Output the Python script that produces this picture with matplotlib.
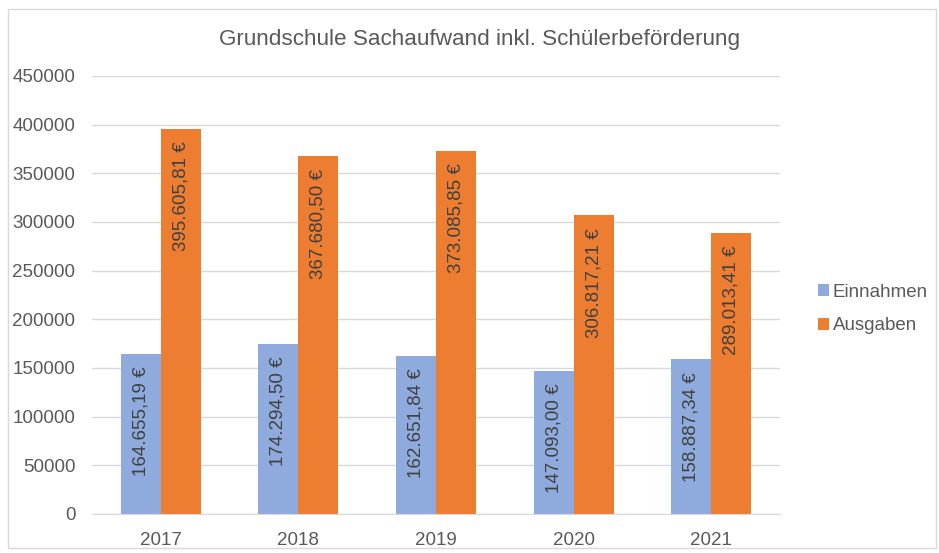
import matplotlib
matplotlib.use("Agg")
import matplotlib.pyplot as plt
import numpy as np

years = ["2017", "2018", "2019", "2020", "2021"]
einnahmen = [164655.19, 174294.50, 162651.84, 147093.00, 158887.34]
ausgaben = [395605.81, 367680.50, 373085.85, 306817.21, 289013.41]
labels_ein = ["164.655,19 €", "174.294,50 €", "162.651,84 €", "147.093,00 €", "158.887,34 €"]
labels_aus = ["395.605,81 €", "367.680,50 €", "373.085,85 €", "306.817,21 €", "289.013,41 €"]
yticks = [0, 50000, 100000, 150000, 200000, 250000, 300000, 350000, 400000, 450000]

plt.rcParams['font.family'] = ['Liberation Sans', 'DejaVu Sans']
txt = '#595959'
blue = '#8FAADC'
orange = '#ED7D31'

fig = plt.figure(figsize=(9.39, 5.53), dpi=100)
ax = fig.add_axes([92/939, 1-514/553, 688/939, 438/553])

x = np.arange(len(years))
w = 0.29
b1 = ax.bar(x - w/2, einnahmen, w, color=blue, label='Einnahmen', zorder=2)
b2 = ax.bar(x + w/2, ausgaben, w, color=orange, label='Ausgaben', zorder=2)

for bars, labs in ((b1, labels_ein), (b2, labels_aus)):
    for r, lab in zip(bars, labs):
        ax.annotate(lab, (r.get_x() + r.get_width()/2, r.get_height()),
                    xytext=(0, -9), textcoords='offset points',
                    rotation=90, ha='center', va='top', fontsize=13.5, color='#404040', zorder=3)

ax.set_xlim(-0.5, len(years) - 0.5)
ax.set_ylim(0, 450000)
ax.set_yticks(yticks)
ax.set_yticklabels([str(v) for v in yticks])
ax.set_xticks(x)
ax.set_xticklabels(years)
ax.yaxis.grid(True, color='#D9D9D9', linewidth=1, zorder=0)
ax.tick_params(axis='both', length=0, labelsize=13.5, labelcolor=txt)
ax.tick_params(axis='y', pad=12)
ax.tick_params(axis='x', pad=13)
for s in ['top', 'right', 'left']:
    ax.spines[s].set_visible(False)
ax.spines['bottom'].set_color('#D9D9D9')

fig.text(480/939, 1-40/553, 'Grundschule Sachaufwand inkl. Schülerbeförderung',
         ha='center', va='center', fontsize=16.2, color=txt)

leg = fig.legend(handles=[b1, b2], loc='center left', bbox_to_anchor=(801/939, 1-309/553),
                 frameon=False, fontsize=13.5, handlelength=0.6, handleheight=0.6,
                 handletextpad=0.2, labelspacing=0.9)
for t in leg.get_texts():
    t.set_color(txt)

fig.patches.append(plt.Rectangle((8/939, 5/553), 928/939, 539/553, transform=fig.transFigure,
                                 fill=False, edgecolor='#D9D9D9', linewidth=1))

fig.savefig('out.png', dpi=100)
